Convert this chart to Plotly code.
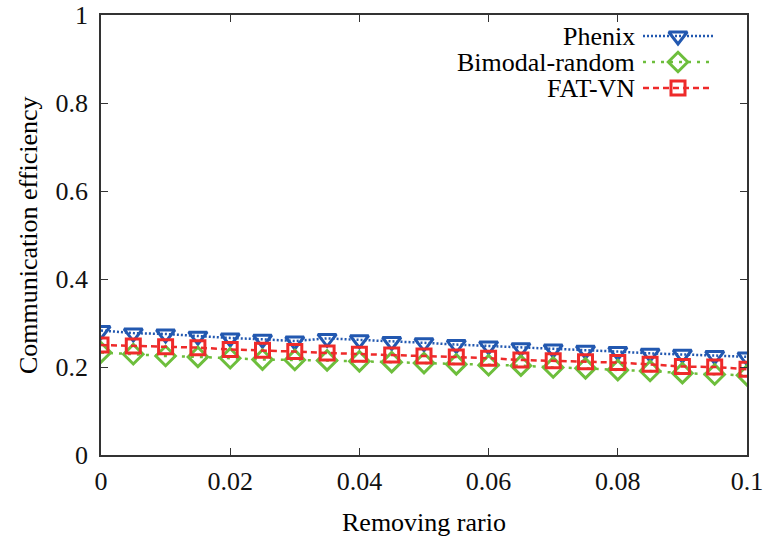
import plotly.graph_objects as go

ratio = [0, 0.005, 0.01, 0.015, 0.02, 0.025, 0.03, 0.035, 0.04, 0.045, 0.05,
         0.055, 0.06, 0.065, 0.07, 0.075, 0.08, 0.085, 0.09, 0.095, 0.1]
phenix = [0.283, 0.277, 0.275, 0.270, 0.266, 0.263, 0.259, 0.265, 0.262, 0.258, 0.255,
          0.251, 0.248, 0.244, 0.241, 0.238, 0.235, 0.231, 0.229, 0.226, 0.223]
bimodal = [0.233, 0.229, 0.225, 0.223, 0.220, 0.217, 0.216, 0.215, 0.213, 0.211, 0.209,
           0.206, 0.204, 0.203, 0.199, 0.197, 0.193, 0.191, 0.186, 0.183, 0.181]
fatvn = [0.250, 0.248, 0.246, 0.244, 0.240, 0.238, 0.235, 0.232, 0.229, 0.227, 0.225,
         0.223, 0.220, 0.216, 0.214, 0.212, 0.210, 0.206, 0.201, 0.200, 0.195]

names = ["Phenix", "Bimodal-random", "FAT-VN"]
colors = ["#2258B0", "#6DBE3C", "#EE2A2A"]
symbols = ["triangle-down-open", "diamond-open", "square-open"]
sizes = [16, 15, 14]
dashes = ["2px,2px", "3px,6px", "6px,4px"]
series = [phenix, bimodal, fatvn]

FONT = "Liberation Serif, Times New Roman, serif"
W, H = 765, 539
ml, mr, mt, mb = 101, 18, 15, 84
pw = W - ml - mr
ph = H - mt - mb


def px_x(p):
    return (p - ml) / pw


def px_y(p):
    return (H - mb - p) / ph


fig = go.Figure()
for nm, ys, c, s, sz, d in zip(names, series, colors, symbols, sizes, dashes):
    fig.add_trace(go.Scatter(
        x=ratio, y=ys, mode="lines+markers", name=nm, showlegend=False,
        line=dict(color=c, width=2.5, dash=d),
        marker=dict(symbol=s, size=sz, color=c, line=dict(color=c, width=3)),
    ))

# legend keys on an auxiliary axis
rows = [0, 1, 2]
row_px = [36, 62, 88]
for i, (nm, c, s, sz, d) in enumerate(zip(names, colors, symbols, sizes, dashes)):
    fig.add_trace(go.Scatter(
        x=[0, 0.5, 1], y=[rows[i]] * 3, mode="lines", xaxis="x2", yaxis="y2",
        showlegend=False, hoverinfo="skip",
        line=dict(color=c, width=2.5, dash=d),
    ))
    fig.add_trace(go.Scatter(
        x=[0.5], y=[rows[i]], mode="markers", xaxis="x2", yaxis="y2",
        showlegend=False, hoverinfo="skip",
        marker=dict(symbol=s, size=sz, color=c, line=dict(color=c, width=3)),
    ))
    fig.add_annotation(x=px_x(637), y=px_y(row_px[i]), xref="paper", yref="paper",
                       text=nm, showarrow=False, xanchor="right", yanchor="middle",
                       font=dict(family=FONT, size=26, color="black"))

axis_common = dict(
    showline=True, linecolor="#333333", linewidth=1.5, mirror="allticks",
    ticks="inside", ticklen=7, tickwidth=1, tickcolor="#333333",
    showgrid=False, zeroline=False, automargin=False,
    tickfont=dict(family=FONT, size=26, color="#111111"),
)

fig.update_layout(
    width=W, height=H, margin=dict(l=ml, r=mr, t=mt, b=mb, autoexpand=False),
    paper_bgcolor="white", plot_bgcolor="white",
    xaxis=dict(range=[0, 0.1], tickvals=[0, 0.02, 0.04, 0.06, 0.08, 0.1],
               ticktext=["0", "0.02", "0.04", "0.06", "0.08", "0.1"],
               ticklabelstandoff=2, **axis_common),
    yaxis=dict(range=[0, 1], tickvals=[0, 0.2, 0.4, 0.6, 0.8, 1],
               ticktext=["0", "0.2", "0.4", "0.6", "0.8", "1"],
               ticklabelstandoff=6, **axis_common),
    xaxis2=dict(domain=[px_x(643), px_x(713)], range=[0, 1], visible=False, anchor="y2"),
    yaxis2=dict(domain=[px_y(101), px_y(23)], range=[2.5, -0.5], visible=False, anchor="x2"),
    showlegend=False,
)

fig.add_annotation(x=0.5, y=px_y(522), xref="paper", yref="paper",
                   text="Removing rario", showarrow=False, xanchor="center", yanchor="middle",
                   font=dict(family=FONT, size=26, color="black"))
fig.add_annotation(x=px_x(28), y=0.5, xref="paper", yref="paper",
                   text="Communication efficiency", showarrow=False, textangle=-90,
                   xanchor="center", yanchor="middle",
                   font=dict(family=FONT, size=26, color="black"))

fig.write_html("out.html")
